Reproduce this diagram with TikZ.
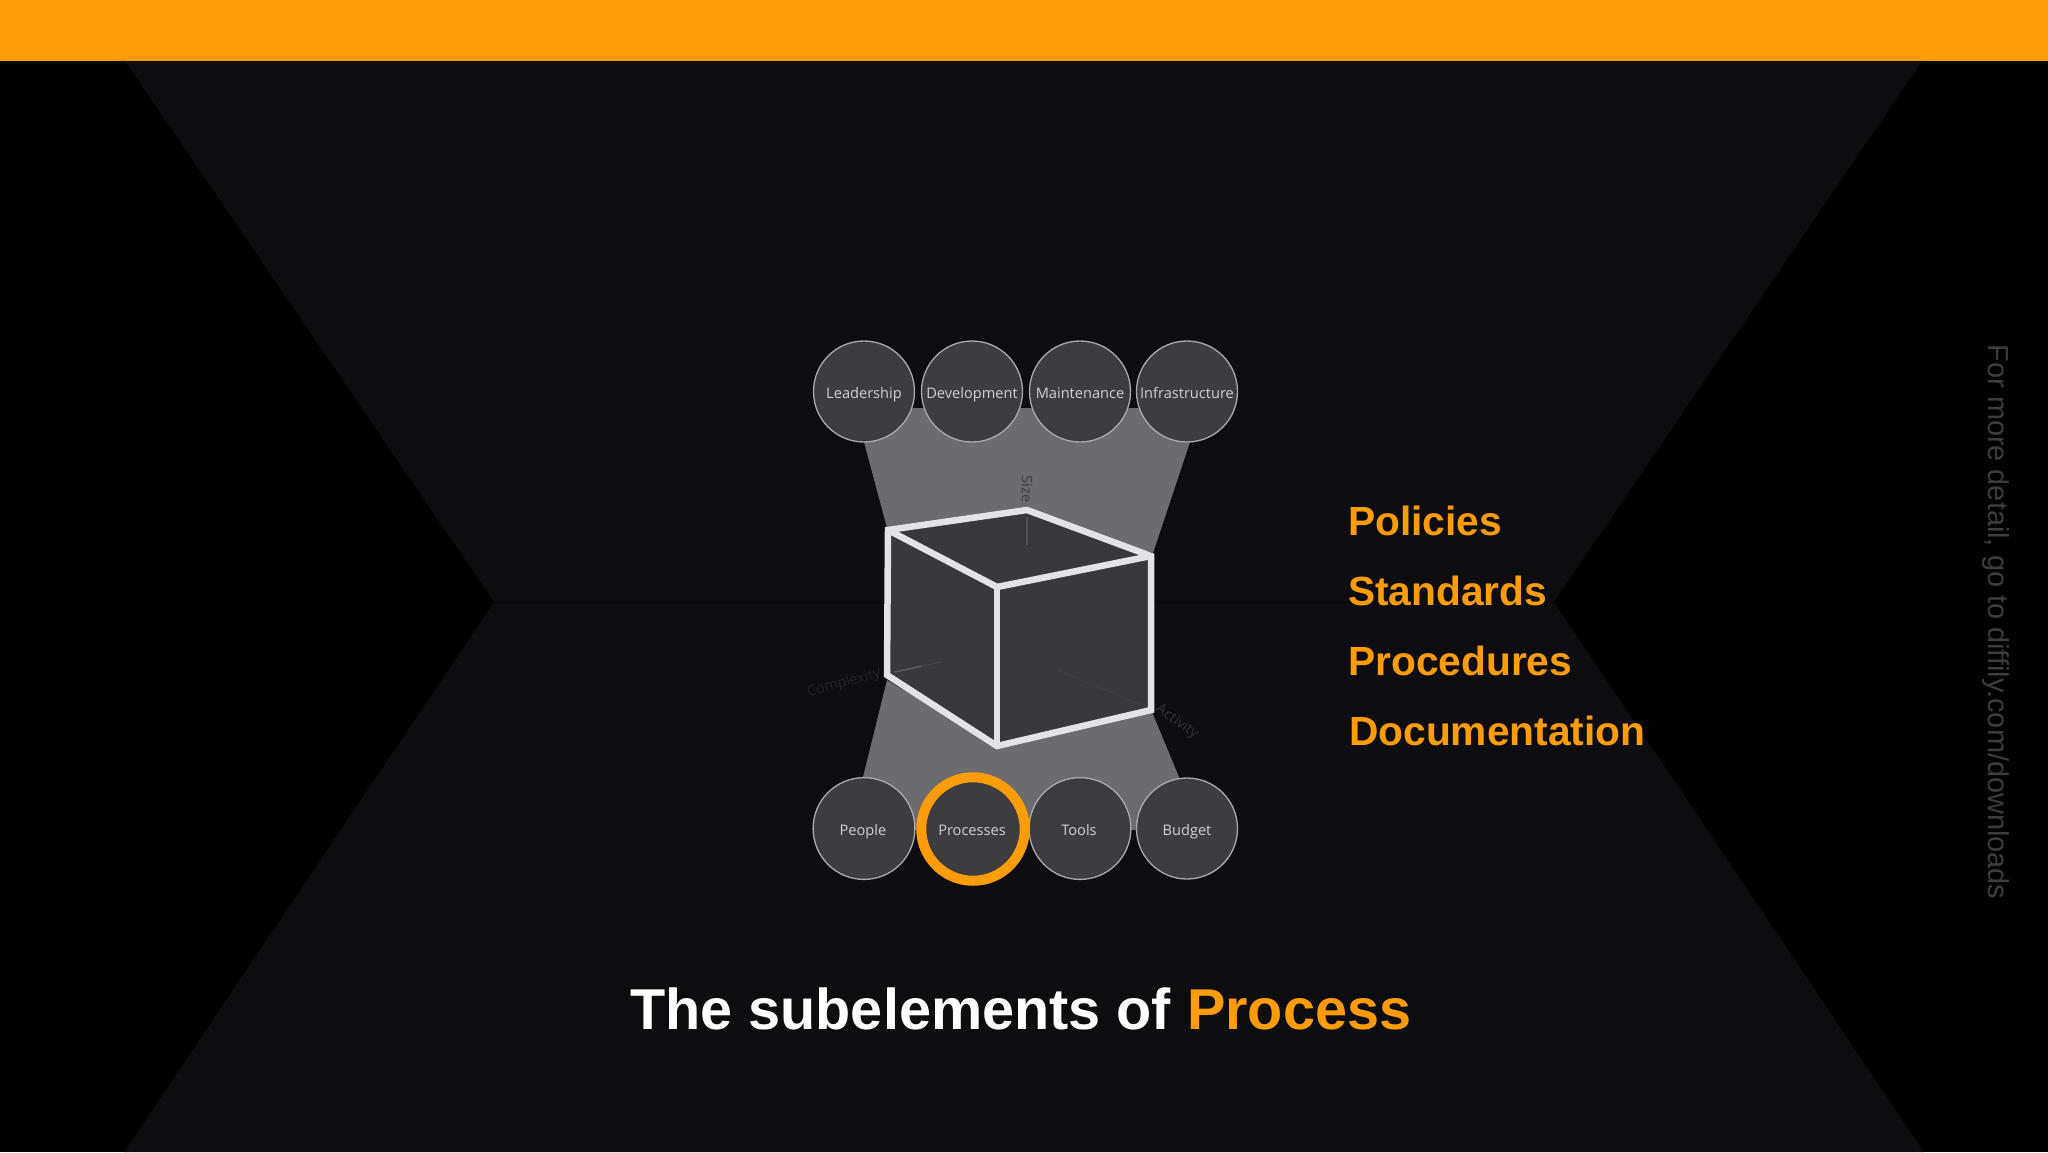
\documentclass[tikz,border=0pt]{standalone}
\usepackage{fontspec}
\setmainfont{Liberation Sans}
\newfontfamily\labelfont{Open Sans}
\definecolor{orangeband}{HTML}{FF9C06}
\definecolor{wedge}{HTML}{0D0D0F}
\definecolor{panel}{HTML}{6C6B6E}
\definecolor{facefill}{HTML}{39383B}
\definecolor{circfill}{HTML}{3D3C3F}
\definecolor{circline}{HTML}{ABABAB}
\definecolor{cubeline}{HTML}{E3E2E4}
\tikzset{
  x=1pt,y=-1pt,
  elem/.style={circle,draw=circline,line width=1.3pt,fill=circfill,minimum size=101pt,inner sep=0pt,text=white!82!black,text height=14pt,text depth=1pt,font=\labelfont\fontsize{14.6}{18}\selectfont},
  sub/.style={anchor=base west,text=orangeband,font=\bfseries\fontsize{40.7}{46}\selectfont,inner sep=0pt},
  axislabel/.style={font=\labelfont\fontsize{14.5}{16}\selectfont,inner sep=0pt},
  cube/.style={draw=cubeline,line width=6.5pt,line join=miter},
}
\begin{document}
\begin{tikzpicture}
\useasboundingbox (0,0) rectangle (2048,1152);
\fill[black] (0,0) rectangle (2048,1152);
% background
\fill[wedge] (125,61) -- (1922,61) -- (1554,602) -- (1924,1152) -- (124,1152) -- (494,602) -- cycle;
\draw[black!45!wedge,line width=1pt] (494,602) -- (1554,602);
\fill[orangeband] (0,0) rectangle (2048,61);
% grey panels
\fill[panel] (864,442) -- (864,408) -- (1190,408) -- (1190,442) -- (1153,553) -- (1027,510) -- (887,528) -- cycle;
\fill[panel] (887,680) -- (863,777) -- (863,830) -- (1179,830) -- (1179,777) -- (1152,712) -- (997,746) -- cycle;
% cube
\fill[facefill] (888,530) -- (1027,510) -- (1151,556) -- (1151,710) -- (997,746) -- (887,675) -- cycle;
\draw[white!12!facefill,line width=1.5pt] (1027,517) -- (1027,545);
\draw[white!18!facefill,line width=1.5pt] (895,672) -- (922,666);
\draw[white!7!facefill,line width=1pt] (922,666) -- (942,662);
\draw[white!3!facefill,line width=1.2pt] (1057,670) -- (1147,707);
\draw[cube] (888,530) -- (1027,510) -- (1151,556) -- (1151,710) -- (997,746) -- (887,675) -- cycle;
\draw[cube] (888,530) -- (997,587) -- (1151,556);
\draw[cube] (997,587) -- (997,746);
% axis labels
\node[axislabel,text=black!45!panel,rotate=-90] (size) at (1027,489) {Size};
\node[axislabel,text=white!14!black,rotate=15] (complexity) at (844,683) {Complexity};
\node[axislabel,text=white!20!black,rotate=-36] (activity) at (1177,722) {Activity};
% circles
\node[elem] (leadership) at (864,391.5) {Leadership};
\node[elem] (development) at (972,391.5) {Development};
\node[elem] (maintenance) at (1080,391.5) {Maintenance};
\node[elem] (infrastructure) at (1187,391.5) {Infrastructure};
\node[elem,text width=101pt,align=center] (people) at (864,828.5) {\hspace*{-2pt}People};
\node[elem] (processes) at (972,828.5) {Processes};
\node[elem,text width=101pt,align=center] (tools) at (1080,828.5) {\hspace*{-2pt}Tools};
\node[elem] (budget) at (1187,828.5) {Budget};
\node[circle,draw=orangeband,line width=10pt,minimum size=103.5pt,inner sep=0pt] (ring) at (973,829) {};
% side list
\node[sub] (policies) at (1348,535) {Policies};
\node[sub] (standards) at (1348,605) {Standards};
\node[sub] (procedures) at (1348,675) {Procedures};
\node[sub] (documentation) at (1349,745) {Documentation};
% title
\node[anchor=base west,inner sep=0pt,font=\bfseries\fontsize{57.6}{64}\selectfont,text=white] (title) at (630,1029) {The subelements of \textcolor{orangeband}{Process}};
% side note
\node[rotate=-90,inner sep=0pt,text=white!24!black,font=\fontsize{28.9}{32}\selectfont] (note) at (1996,622) {For more detail, go to diffily.com/downloads};
\end{tikzpicture}
\end{document}
